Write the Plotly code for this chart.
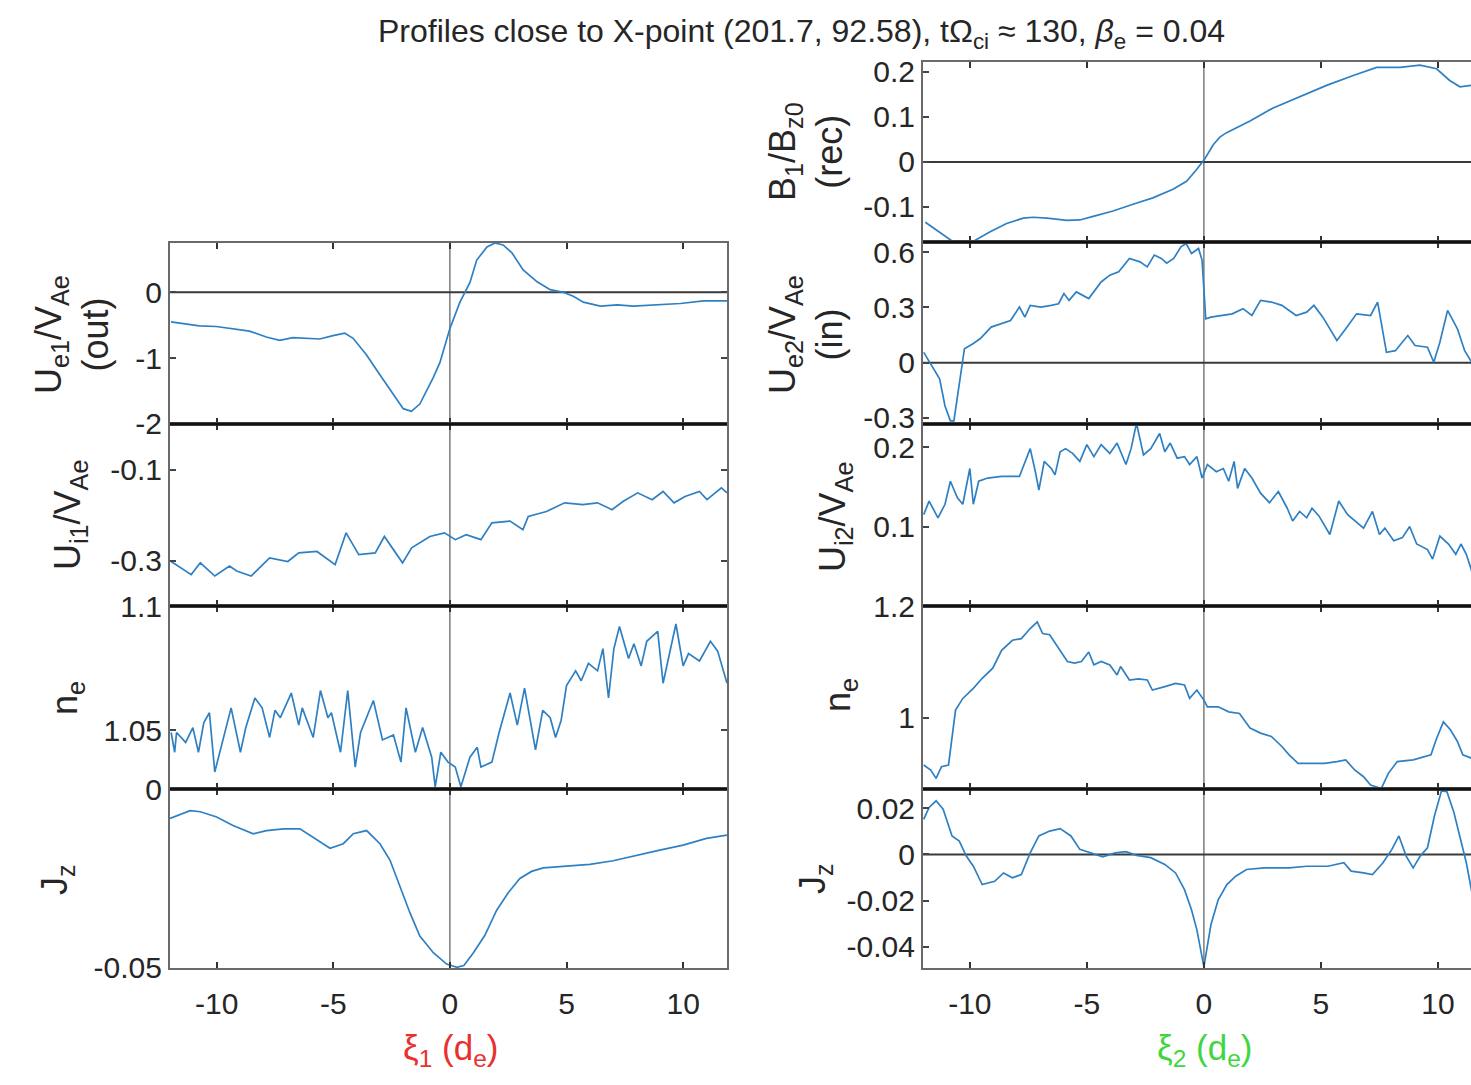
import plotly.graph_objects as go

# ---------------- data ----------------
# Left column: xi_1 profiles
x_ue1 = [-11.96, -11.31, -10.74, -10.02, -9.31, -8.59, -7.87, -7.30, -6.73, -6.01, -5.58, -5.01, -4.51, -4.15,
         -3.58, -3.01, -2.43, -2.0, -1.65, -1.29, -0.72, -0.43, 0.0, 0.43, 0.86, 1.15, 1.59, 1.93, 2.28, 2.66,
         3.14, 3.74, 4.30, 4.86, 5.29, 5.72, 6.45, 7.18, 7.87, 8.90, 9.88, 10.87, 11.88]
ue1 = [-0.45, -0.48, -0.51, -0.52, -0.56, -0.59, -0.68, -0.73, -0.69, -0.70, -0.71, -0.66, -0.62, -0.70,
       -0.95, -1.25, -1.55, -1.77, -1.81, -1.70, -1.30, -1.07, -0.55, -0.15, 0.15, 0.49, 0.69, 0.75, 0.72, 0.60,
       0.34, 0.16, 0.04, 0.0, -0.06, -0.15, -0.21, -0.19, -0.21, -0.19, -0.17, -0.13, -0.13]

x_ui1 = [-11.95, -11.09, -10.70, -10.08, -9.45, -9.14, -8.52, -7.73, -6.95, -6.48, -5.70, -4.92, -4.45, -3.91,
         -3.20, -2.81, -2.03, -1.64, -0.86, -0.23, 0.23, 0.70, 1.33, 1.80, 2.58, 3.13, 3.36, 4.14, 4.92, 5.70,
         6.33, 6.95, 7.42, 8.05, 8.67, 9.14, 9.61, 10.08, 10.70, 11.02, 11.64, 11.88]
ui1 = [-0.302, -0.331, -0.305, -0.334, -0.312, -0.323, -0.334, -0.294, -0.302, -0.283, -0.280, -0.309, -0.239,
       -0.287, -0.283, -0.247, -0.305, -0.272, -0.247, -0.239, -0.254, -0.243, -0.254, -0.217, -0.213, -0.232,
       -0.203, -0.192, -0.173, -0.177, -0.173, -0.188, -0.170, -0.151, -0.166, -0.148, -0.173, -0.159, -0.148,
       -0.166, -0.140, -0.151]

x_ne1 = [-11.95, -11.8, -11.72, -11.33, -11.02, -10.78, -10.55, -10.31, -10.08, -9.77, -9.38, -8.98, -8.75,
         -8.36, -8.05, -7.73, -7.5, -7.27, -6.8, -6.48, -6.33, -5.86, -5.55, -5.23, -5.08, -4.69, -4.38, -4.06,
         -3.83, -3.28, -2.89, -2.42, -2.1, -1.88, -1.48, -1.17, -0.78, -0.63, -0.39, -0.08, 0.23, 0.47, 0.86,
         1.17, 1.33, 1.8, 2.11, 2.58, 2.89, 3.2, 3.67, 3.98, 4.3, 4.53, 4.77, 5.0, 5.39, 5.63, 5.94, 6.33, 6.56,
         6.8, 7.03, 7.27, 7.66, 7.89, 8.2, 8.44, 8.91, 9.14, 9.38, 9.69, 10.0, 10.23, 10.7, 11.17, 11.48, 11.88]
ne1 = [1.049, 1.041, 1.049, 1.045, 1.051, 1.041, 1.053, 1.057, 1.033, 1.045, 1.059, 1.041, 1.051,
       1.063, 1.059, 1.047, 1.058, 1.055, 1.065, 1.052, 1.059, 1.047, 1.066, 1.055, 1.057, 1.041, 1.066, 1.035,
       1.049, 1.062, 1.046, 1.048, 1.037, 1.059, 1.041, 1.051, 1.039, 1.027, 1.041, 1.037, 1.035, 1.027, 1.039,
       1.043, 1.035, 1.037, 1.049, 1.065, 1.052, 1.067, 1.042, 1.058, 1.055, 1.047, 1.054, 1.068, 1.074, 1.070,
       1.077, 1.074, 1.083, 1.063, 1.083, 1.092, 1.079, 1.085, 1.076, 1.086, 1.090, 1.069, 1.080, 1.093, 1.076,
       1.081, 1.078, 1.086, 1.082, 1.069]

x_jz1 = [-12.0, -11.14, -10.7, -10.0, -9.3, -8.43, -7.86, -7.14, -6.43, -5.71, -5.14, -4.57, -4.14, -3.57, -3.0,
         -2.57, -2.14, -1.71, -1.29, -0.71, -0.14, 0.3, 0.6, 1.0, 1.5, 2.0, 2.5, 3.0, 3.5, 4.0, 5.0, 6.0, 7.0,
         8.0, 9.0, 10.0, 11.0, 11.88]
jz1 = [-0.0081, -0.0059, -0.0062, -0.0077, -0.0101, -0.0124, -0.0115, -0.0110, -0.0110, -0.0142, -0.0165,
       -0.0152, -0.0124, -0.0115, -0.0152, -0.0198, -0.0273, -0.0347, -0.0412, -0.0459, -0.0491, -0.0500,
       -0.0495, -0.0460, -0.0410, -0.0340, -0.0290, -0.0250, -0.0230, -0.0220, -0.0215, -0.0210, -0.0200,
       -0.0184, -0.0170, -0.0156, -0.0137, -0.0128]

# Right column: xi_2 profiles
x_b1 = [-11.9, -11.3, -10.7, -9.9, -9.15, -8.43, -7.72, -7.3, -6.7, -5.85, -5.3, -4.73, -3.88, -3.03, -2.18,
        -1.32, -0.74, -0.31, 0.04, 0.4, 0.68, 0.97, 1.97, 2.96, 4.1, 5.24, 6.38, 7.38, 8.38, 9.23, 9.94, 10.5,
        10.94, 11.41]
b1 = [-0.134, -0.156, -0.178, -0.178, -0.156, -0.137, -0.125, -0.123, -0.125, -0.130, -0.129, -0.121, -0.109,
      -0.094, -0.080, -0.061, -0.043, -0.017, 0.007, 0.038, 0.055, 0.065, 0.091, 0.120, 0.145, 0.170, 0.192,
      0.210, 0.210, 0.215, 0.207, 0.181, 0.167, 0.170]

x_ue2 = [-11.97, -11.67, -11.29, -11.06, -10.83, -10.68, -10.45, -10.23, -9.85, -9.55, -9.09, -8.64, -8.26,
         -7.88, -7.65, -7.42, -6.97, -6.52, -6.21, -5.98, -5.76, -5.45, -4.92, -4.39, -4.02, -3.64, -3.18, -2.73,
         -2.42, -2.12, -1.82, -1.59, -1.29, -0.98, -0.76, -0.53, -0.23, -0.08, 0.08, 0.30, 0.76, 1.21, 1.67,
         2.05, 2.42, 2.88, 3.33, 3.94, 4.39, 4.70, 5.08, 5.68, 6.06, 6.52, 7.12, 7.42, 7.80, 8.18, 8.71, 9.02,
         9.55, 9.82, 10.08, 10.41, 10.83, 11.14, 11.44]
ue2 = [0.056, -0.006, -0.088, -0.235, -0.316, -0.316, -0.125, 0.076, 0.104, 0.131, 0.193, 0.213, 0.229,
       0.302, 0.247, 0.311, 0.302, 0.311, 0.320, 0.375, 0.338, 0.384, 0.348, 0.438, 0.475, 0.493, 0.566, 0.547,
       0.520, 0.584, 0.566, 0.540, 0.566, 0.629, 0.647, 0.593, 0.620, 0.557, 0.238, 0.247, 0.256, 0.265, 0.293,
       0.256, 0.338, 0.329, 0.311, 0.256, 0.274, 0.311, 0.247, 0.120, 0.184, 0.265, 0.256, 0.329, 0.056, 0.065,
       0.147, 0.093, 0.084, 0.002, 0.111, 0.284, 0.184, 0.065, 0.002]

x_ui2 = [-11.97, -11.74, -11.36, -11.06, -10.83, -10.53, -10.3, -10.0, -9.85, -9.62, -9.24, -8.64, -7.88, -7.42,
         -7.2, -7.05, -6.82, -6.52, -6.36, -6.14, -5.91, -5.61, -5.30, -5.0, -4.7, -4.39, -4.02, -3.71, -3.33,
         -3.11, -2.88, -2.58, -2.27, -1.89, -1.67, -1.44, -1.14, -0.83, -0.61, -0.30, -0.08, 0.15, 0.53, 0.83,
         1.06, 1.29, 1.44, 1.74, 2.05, 2.42, 2.80, 3.18, 3.56, 3.79, 4.09, 4.39, 4.62, 4.92, 5.38, 5.76, 6.14,
         6.52, 6.82, 7.2, 7.5, 7.73, 8.11, 8.48, 8.79, 9.09, 9.55, 9.77, 10.08, 10.45, 10.76, 10.98, 11.21, 11.44]
ui2 = [0.115, 0.132, 0.111, 0.128, 0.157, 0.136, 0.128, 0.173, 0.128, 0.157, 0.161, 0.163, 0.163, 0.198,
       0.169, 0.146, 0.182, 0.173, 0.165, 0.194, 0.198, 0.192, 0.182, 0.203, 0.188, 0.203, 0.192, 0.205, 0.178,
       0.198, 0.230, 0.190, 0.198, 0.217, 0.194, 0.205, 0.186, 0.188, 0.178, 0.188, 0.161, 0.178, 0.169, 0.173,
       0.157, 0.182, 0.148, 0.173, 0.161, 0.142, 0.130, 0.144, 0.123, 0.107, 0.119, 0.111, 0.123, 0.113, 0.090,
       0.132, 0.115, 0.105, 0.098, 0.119, 0.090, 0.098, 0.082, 0.086, 0.100, 0.078, 0.071, 0.059, 0.088, 0.078,
       0.065, 0.078, 0.065, 0.044]

x_ne2 = [-11.97, -11.67, -11.44, -11.21, -10.91, -10.61, -10.3, -9.85, -9.47, -9.02, -8.64, -8.18, -7.8, -7.42,
         -7.12, -6.89, -6.59, -6.21, -5.83, -5.53, -5.23, -4.92, -4.7, -4.39, -4.02, -3.71, -3.56, -3.18, -2.80,
         -2.42, -2.2, -1.67, -1.21, -0.83, -0.61, -0.30, 0.0, 0.15, 0.61, 1.06, 1.52, 1.97, 2.42, 2.88, 3.33,
         3.64, 4.02, 4.55, 5.15, 5.68, 6.06, 6.44, 6.82, 7.12, 7.58, 7.88, 8.26, 8.94, 9.39, 9.70, 9.92, 10.23,
         10.53, 10.83, 11.06, 11.44]
ne2 = [0.916, 0.907, 0.892, 0.913, 0.916, 1.014, 1.035, 1.053, 1.071, 1.089, 1.121, 1.139, 1.142, 1.160,
       1.172, 1.151, 1.149, 1.124, 1.101, 1.098, 1.101, 1.118, 1.095, 1.101, 1.095, 1.077, 1.092, 1.068, 1.070,
       1.068, 1.050, 1.056, 1.062, 1.059, 1.035, 1.050, 1.032, 1.020, 1.020, 1.011, 1.008, 0.982, 0.973, 0.967,
       0.949, 0.934, 0.919, 0.919, 0.919, 0.922, 0.925, 0.907, 0.895, 0.880, 0.874, 0.901, 0.922, 0.925, 0.931,
       0.934, 0.961, 0.993, 0.979, 0.958, 0.934, 0.928]

x_jz2 = [-11.97, -11.74, -11.44, -11.14, -10.76, -10.45, -10.15, -9.85, -9.47, -8.94, -8.56, -8.18, -7.8, -7.42,
         -7.05, -6.59, -6.14, -5.68, -5.3, -4.85, -4.32, -3.79, -3.33, -2.88, -2.27, -1.67, -1.21, -0.83, -0.53,
         -0.30, -0.11, 0.0, 0.12, 0.30, 0.61, 0.98, 1.36, 1.82, 2.58, 3.64, 4.39, 5.3, 5.98, 6.29, 6.82, 7.2,
         7.65, 8.03, 8.33, 8.64, 8.94, 9.24, 9.55, 9.85, 10.15, 10.38, 10.68, 10.98, 11.21, 11.44]
jz2 = [0.0152, 0.0203, 0.0232, 0.0196, 0.0080, 0.0058, -0.0007, -0.0051, -0.0130, -0.0116, -0.0080, -0.0101,
       -0.0087, 0.0007, 0.0080, 0.0101, 0.0112, 0.0080, 0.0022, 0.0007, -0.0010, 0.0007, 0.0012, -0.0004,
       -0.0014, -0.0043, -0.0080, -0.0152, -0.0239, -0.0326, -0.0428, -0.0486, -0.0413, -0.0304, -0.0196,
       -0.0130, -0.0094, -0.0065, -0.0058, -0.0058, -0.0051, -0.0051, -0.0036, -0.0072, -0.0080, -0.0087,
       -0.0036, 0.0022, 0.0080, -0.0007, -0.0058, -0.0007, 0.0029, 0.0167, 0.0275, 0.0272, 0.0181, 0.0051,
       -0.0036, -0.0160]

x_tick_vals = [-10, -5, 0, 5, 10]
x_tick_text = ["-10", "-5", "0", "5", "10"]

y_ticks_ue1 = [-2, -1, 0]
y_ticks_ui1 = [-0.3, -0.1]
y_ticks_ne1 = [1.05, 1.1]
y_ticks_jz1 = [-0.05, 0]
y_ticks_b1 = [-0.1, 0, 0.1, 0.2]
y_ticks_ue2 = [-0.3, 0, 0.3, 0.6]
y_ticks_ui2 = [0.1, 0.2]
y_ticks_ne2 = [1, 1.2]
y_ticks_jz2 = [-0.04, -0.02, 0, 0.02]

title_text = "Profiles close to X-point (201.7, 92.58), tΩ<sub>ci</sub> ≈ 130, <i>β</i><sub>e</sub> = 0.04"
xlabel_left = "ξ<sub>1</sub> (d<sub>e</sub>)"
xlabel_right = "ξ<sub>2</sub> (d<sub>e</sub>)"

# ---------------- layout geometry ----------------
W, H = 1471, 1085
FONT = "Liberation Sans, Arial, Helvetica, sans-serif"
TXT = "#262626"
LINE = "#2f80c3"
TICK_FS = 30

def fx(p):
    return p / W

def fy(p):
    return (H - p) / H

# (xs, ys, x-pixels, y-pixels(top,bottom), xrange, yrange, yticks, left_column, bottom_panel, ylabel, label_center, zero line)
panels = [
    (x_ue1, ue1, (170, 727), (243, 424), [-12, 11.88], [-2.003, 0.75], y_ticks_ue1, True, False,
     "U<sub>e1</sub>/V<sub>Ae</sub><br>(out)", (72, 335), True),
    (x_ui1, ui1, (170, 727), (424, 606), [-12, 11.88], [-0.4, 0.0005], y_ticks_ui1, True, False,
     "U<sub>i1</sub>/V<sub>Ae</sub>", (70, 515), False),
    (x_ne1, ne1, (170, 727), (606, 789), [-12, 11.88], [1.0261, 1.1003], y_ticks_ne1, True, False,
     "n<sub>e</sub>", (67, 698), False),
    (x_jz1, jz1, (170, 727), (789, 968), [-12, 11.88], [-0.0502, 0.0002], y_ticks_jz1, True, True,
     "J<sub>z</sub>", (57, 880), False),
    (x_b1, b1, (923, 1471), (62, 242), [-12, 11.41], [-0.178, 0.222], y_ticks_b1, False, False,
     "B<sub>1</sub>/B<sub>z0</sub><br>(rec)", (806, 152), True),
    (x_ue2, ue2, (923, 1471), (242, 424), [-12, 11.41], [-0.333, 0.655], y_ticks_ue2, False, False,
     "U<sub>e2</sub>/V<sub>Ae</sub><br>(in)", (806, 335), True),
    (x_ui2, ui2, (923, 1471), (424, 606), [-12, 11.41], [0.0, 0.229], y_ticks_ui2, False, False,
     "U<sub>i2</sub>/V<sub>Ae</sub>", (835, 517), False),
    (x_ne2, ne2, (923, 1471), (606, 789), [-12, 11.41], [0.873, 1.2003], y_ticks_ne2, False, False,
     "n<sub>e</sub>", (840, 695), False),
    (x_jz2, jz2, (923, 1471), (789, 968), [-12, 11.41], [-0.0491, 0.0283], y_ticks_jz2, False, True,
     "J<sub>z</sub>", (815, 878), True),
]

fig = go.Figure()
layout = dict(
    template="none",
    width=W, height=H,
    margin=dict(l=0, r=0, t=0, b=0, pad=0, autoexpand=False),
    paper_bgcolor="white", plot_bgcolor="white",
    showlegend=False,
    font=dict(family=FONT, color=TXT, size=TICK_FS),
)
shapes = []
annotations = []

for i, (xs, ys, xp, yp, xr, yr, yt, left, bottom, ylab, lc, zero_h) in enumerate(panels, start=1):
    xa = "x" if i == 1 else f"x{i}"
    ya = "y" if i == 1 else f"y{i}"
    fig.add_trace(go.Scatter(x=xs, y=ys, mode="lines", xaxis=xa, yaxis=ya,
                             line=dict(color=LINE, width=1.7), hoverinfo="skip"))
    xkey = "xaxis" if i == 1 else f"xaxis{i}"
    ykey = "yaxis" if i == 1 else f"yaxis{i}"
    layout[xkey] = dict(
        domain=[fx(xp[0]), fx(xp[1])], range=xr, anchor=ya, automargin=False,
        showgrid=False, zeroline=False,
        showline=True, linecolor="#6a6a6a", linewidth=2, mirror="ticks",
        ticks="inside", ticklen=6, tickwidth=2, tickcolor="#333333",
        tickvals=x_tick_vals, ticktext=x_tick_text,
        showticklabels=bottom, tickfont=dict(size=TICK_FS, color=TXT, family=FONT),
        ticklabelstandoff=8,
    )
    layout[ykey] = dict(
        domain=[fy(yp[1]), fy(yp[0])], range=yr, anchor=xa, automargin=False,
        showgrid=False, zeroline=False,
        showline=True, linecolor="#6a6a6a", linewidth=2,
        mirror="ticks" if left else False,
        ticks="inside", ticklen=6, tickwidth=1.5, tickcolor="#444444",
        tickvals=yt, ticktext=[f"{v:g}" for v in yt],
        tickfont=dict(size=TICK_FS, color=TXT, family=FONT),
    )
    # vertical line at xi = 0
    shapes.append(dict(type="line", xref=xa, yref=f"{ya} domain", x0=0, x1=0, y0=0, y1=1,
                       line=dict(color="#5a5a5a", width=1.2), layer="below"))
    if zero_h:
        shapes.append(dict(type="line", xref=f"{xa} domain", yref=ya, x0=0, x1=1, y0=0, y1=0,
                           line=dict(color="#3a3a3a", width=2), layer="below"))
    annotations.append(dict(text=ylab, x=fx(lc[0]), y=fy(lc[1]), xref="paper", yref="paper",
                            xanchor="center", yanchor="middle", showarrow=False, textangle=-90,
                            font=dict(size=36, color=TXT, family=FONT)))

# thick separators between stacked panels
for (x0, x1, yb) in [(170, 727, 424), (170, 727, 606), (170, 727, 789),
                     (923, 1471, 242), (923, 1471, 424), (923, 1471, 606), (923, 1471, 789)]:
    shapes.append(dict(type="line", xref="paper", yref="paper", x0=fx(x0), x1=fx(x1), y0=fy(yb), y1=fy(yb),
                       line=dict(color="#111111", width=3)))

annotations.append(dict(text=title_text, x=fx(801), y=fy(33), xref="paper", yref="paper",
                        xanchor="center", yanchor="middle", showarrow=False,
                        font=dict(size=32, color=TXT, family=FONT)))
annotations.append(dict(text=xlabel_left, x=fx(450), y=fy(1050), xref="paper",
                        yref="paper", xanchor="center", yanchor="middle", showarrow=False,
                        font=dict(size=35, color="#e8312f", family=FONT)))
annotations.append(dict(text=xlabel_right, x=fx(1204), y=fy(1050), xref="paper",
                        yref="paper", xanchor="center", yanchor="middle", showarrow=False,
                        font=dict(size=35, color="#3fd63f", family=FONT)))

layout["shapes"] = shapes
layout["annotations"] = annotations
fig.update_layout(**layout)
fig.write_html("out.html")
